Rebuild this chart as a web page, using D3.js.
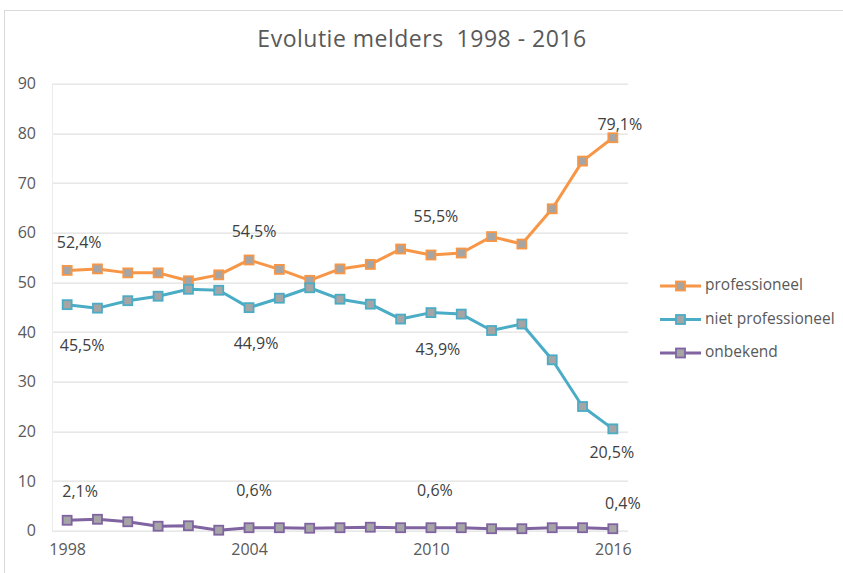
<!DOCTYPE html>
<html>
<head>
<meta charset="utf-8">
<script src="https://cdn.jsdelivr.net/npm/d3@7"></script>
<style>
  body { margin: 0; background: #fff; }
  svg text { font-family: "Open Sans", Lato, sans-serif; }
</style>
</head>
<body>
<div id="chart"></div>
<script>
// jaren + reeksen (percentages)
const years = d3.range(1998, 2017);
const yearTicks = [1998, 2004, 2010, 2016];
const yTicks = [0, 10, 20, 30, 40, 50, 60, 70, 80, 90];

const professioneel = [52.4, 52.7, 51.9, 51.9, 50.3, 51.5, 54.5, 52.6, 50.4, 52.7,
  53.6, 56.7, 55.5, 55.9, 59.2, 57.7, 64.8, 74.4, 79.1];
const nietProfessioneel = [45.5, 44.8, 46.3, 47.2, 48.6, 48.4, 44.9, 46.8, 48.9, 46.6,
  45.6, 42.6, 43.9, 43.6, 40.3, 41.6, 34.4, 25.0, 20.5];
const onbekend = [2.1, 2.3, 1.8, 0.9, 1.0, 0.1, 0.6, 0.6, 0.5, 0.6,
  0.7, 0.6, 0.6, 0.6, 0.4, 0.4, 0.6, 0.6, 0.4];

const seriesNames = ["professioneel", "niet professioneel", "onbekend"];
const seriesColors = ["#F79646", "#4BACC6", "#8064A2"];

// data labels: reeks index, jaar, tekst
const labelSeries = [0, 0, 0, 0, 1, 1, 1, 1, 2, 2, 2, 2];
const labelYears = [1998, 2004, 2010, 2016, 1998, 2004, 2010, 2016, 1998, 2004, 2010, 2016];
const labelTexts = ["52,4%", "54,5%", "55,5%", "79,1%", "45,5%", "44,9%", "43,9%", "20,5%",
  "2,1%", "0,6%", "0,6%", "0,4%"];
// verschuiving van elk label t.o.v. het punt (layout)
const labelOffsets = [[12, -27], [5, -27], [5, -37], [7, -12],
  [15, 42], [7, 37], [7, 38], [-1, 25],
  [13, -28], [5, -36], [4, -36], [10, -24]];

const W = 843, H = 573;
const margin = { top: 83.6, right: 215, bottom: 42.3, left: 52 };
const width = W - margin.left - margin.right;
const height = H - margin.top - margin.bottom;

const svg = d3.select("#chart").append("svg")
  .attr("width", W)
  .attr("height", H);

// kader rond grafiek
svg.append("rect")
  .attr("x", 4.5).attr("y", 10.5)
  .attr("width", W + 10).attr("height", H + 10)
  .attr("fill", "none")
  .attr("stroke", "#d9d9d9")
  .attr("stroke-width", 1);

svg.append("text")
  .attr("x", 422)
  .attr("y", 41)
  .attr("text-anchor", "middle")
  .attr("dominant-baseline", "middle")
  .style("font-size", "23px")
  .style("letter-spacing", "0.5px")
  .style("fill", "#595959")
  .style("white-space", "pre")
  .text("Evolutie melders  1998 - 2016");

const g = svg.append("g")
  .attr("transform", `translate(${margin.left},${margin.top})`);

const x = d3.scalePoint()
  .domain(years)
  .range([0, width])
  .padding(0.5);

const y = d3.scaleLinear()
  .domain([0, 90])
  .range([height, 0]);

// rasterlijnen
g.selectAll(".grid")
  .data(yTicks)
  .enter().append("line")
  .attr("class", "grid")
  .attr("x1", 0).attr("x2", width)
  .attr("y1", d => Math.round(y(d)) + 0.5)
  .attr("y2", d => Math.round(y(d)) + 0.5)
  .attr("stroke", "#d9d9d9")
  .attr("stroke-width", 1);

// y-as
const yAxis = g.append("g")
  .call(d3.axisLeft(y).tickValues(yTicks).tickSize(0).tickPadding(16));
yAxis.select(".domain").attr("stroke", "#ececec");
yAxis.selectAll("text")
  .style("font-size", "16px")
  .style("fill", "#595959")
  .style("font-family", "'Open Sans', Lato, sans-serif");

// x-as
const xAxis = g.append("g")
  .attr("transform", `translate(0,${height})`)
  .call(d3.axisBottom(x).tickValues(yearTicks).tickSize(0).tickPadding(13));
xAxis.select(".domain").remove();
xAxis.selectAll("text")
  .style("font-size", "16px")
  .style("fill", "#595959")
  .style("font-family", "'Open Sans', Lato, sans-serif");

const allSeries = [professioneel, nietProfessioneel, onbekend];

const line = d3.line()
  .x((d, i) => x(years[i]))
  .y(d => y(d));

allSeries.forEach((values, s) => {
  g.append("path")
    .datum(values)
    .attr("fill", "none")
    .attr("stroke", seriesColors[s])
    .attr("stroke-width", 3)
    .attr("stroke-linejoin", "round")
    .attr("d", line);

  g.selectAll(".marker" + s)
    .data(values)
    .enter().append("rect")
    .attr("class", "marker" + s)
    .attr("x", (d, i) => x(years[i]) - 4.5)
    .attr("y", d => y(d) - 4.5)
    .attr("width", 9)
    .attr("height", 9)
    .attr("fill", "#A5A5A5")
    .attr("stroke", seriesColors[s])
    .attr("stroke-width", 1.8);
});

// data labels
g.selectAll(".data-label")
  .data(labelTexts)
  .enter().append("text")
  .attr("class", "data-label")
  .attr("x", (d, i) => x(labelYears[i]) + labelOffsets[i][0])
  .attr("y", (d, i) => y(allSeries[labelSeries[i]][years.indexOf(labelYears[i])]) + labelOffsets[i][1])
  .attr("text-anchor", "middle")
  .attr("dominant-baseline", "middle")
  .style("font-size", "16px")
  .style("fill", "#404040")
  .text(d => d);

// legenda
const legend = svg.append("g")
  .attr("transform", "translate(660,286)");

const legendItem = legend.selectAll(".legend-item")
  .data(seriesNames)
  .enter().append("g")
  .attr("class", "legend-item")
  .attr("transform", (d, i) => `translate(0,${i * 33.5})`);

legendItem.append("line")
  .attr("x1", 0).attr("x2", 41)
  .attr("y1", 0).attr("y2", 0)
  .attr("stroke", (d, i) => seriesColors[i])
  .attr("stroke-width", 3);

legendItem.append("rect")
  .attr("x", 16).attr("y", -4.5)
  .attr("width", 9).attr("height", 9)
  .attr("fill", "#A5A5A5")
  .attr("stroke", (d, i) => seriesColors[i])
  .attr("stroke-width", 1.8);

legendItem.append("text")
  .attr("x", 45)
  .attr("y", 0)
  .attr("dominant-baseline", "middle")
  .style("font-size", "15.5px")
  .style("fill", "#595959")
  .text(d => d);
</script>
</body>
</html>
